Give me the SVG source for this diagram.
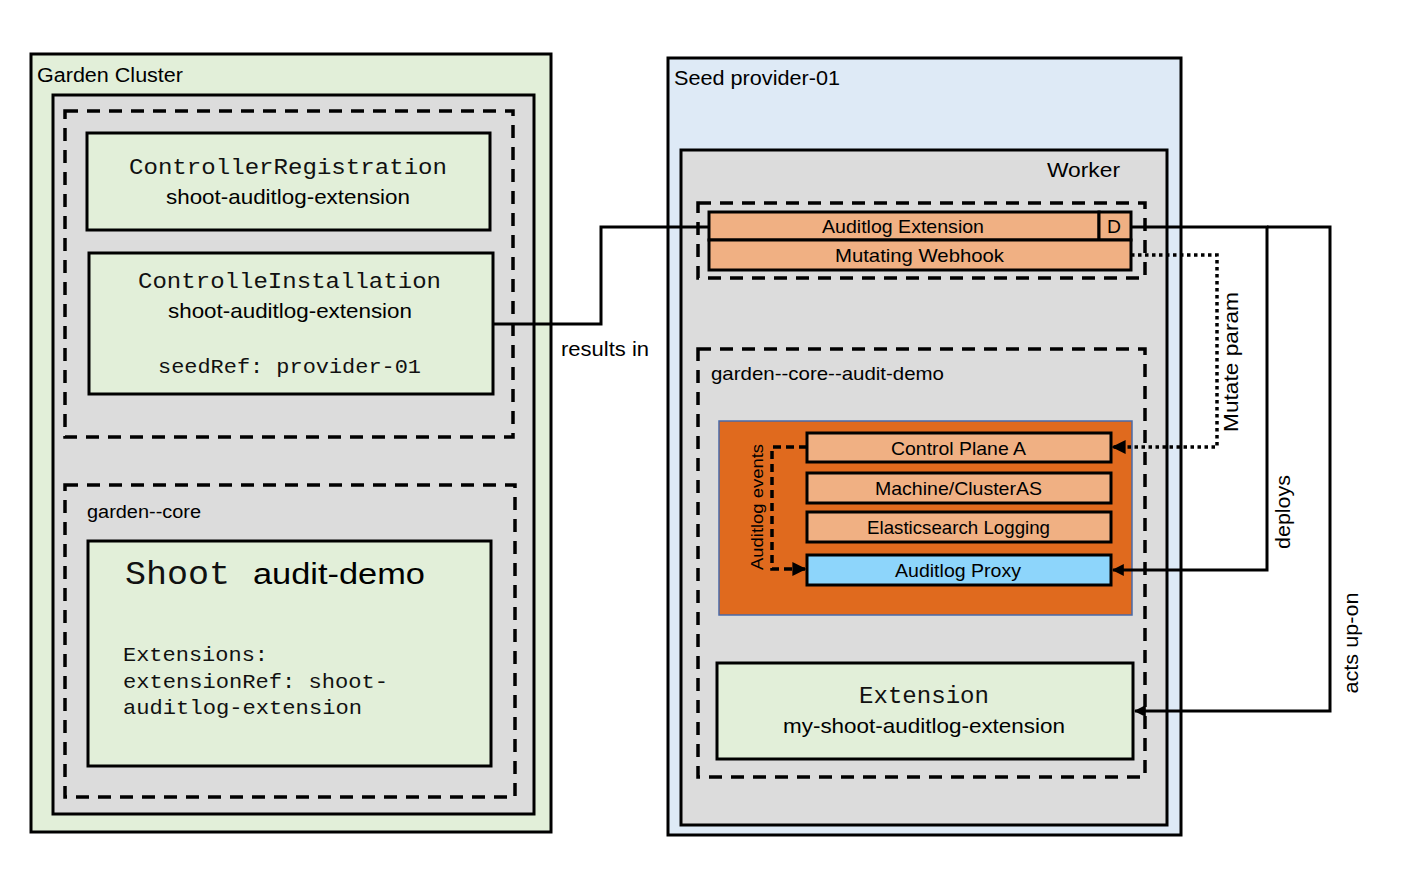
<svg xmlns="http://www.w3.org/2000/svg" width="1401" height="870" viewBox="0 0 1401 870">
<defs>
<style>
.box{stroke:#000;stroke-width:3}
.green{fill:#e2efd9}
.gray{fill:#dcdcdc}
.seed{fill:#deeaf6}
.lor{fill:#f0b083}
.dash{fill:none;stroke:#000;stroke-width:3.5;stroke-dasharray:13 9}
.s{font-family:"Liberation Sans",Arial,sans-serif;fill:#000}
.m{font-family:"Liberation Mono","Courier New",monospace;fill:#111}
.ln{fill:none;stroke:#000;stroke-width:3}
</style>
<marker id="ah" viewBox="0 0 10 10" refX="9" refY="5" markerWidth="4" markerHeight="4" orient="auto" markerUnits="strokeWidth">
<path d="M0,0 L10,5 L0,10 z" fill="#000"/>
</marker>
</defs>
<rect width="1401" height="870" fill="#fff"/>

<g id="garden-cluster">
<rect class="box green" x="31" y="54" width="520" height="778"/>
<text class="s" x="37" y="82" font-size="20" textLength="146" lengthAdjust="spacingAndGlyphs">Garden Cluster</text>
<rect class="box gray" x="53" y="95" width="481" height="719"/>
</g>

<g id="garden-ns">
<rect class="dash" x="65" y="111" width="448" height="326"/>
</g>

<g id="controller-registration">
<rect class="box green" x="87" y="133" width="403" height="97"/>
<text class="m" x="129" y="174" font-size="22" textLength="318" lengthAdjust="spacingAndGlyphs">ControllerRegistration</text>
<text class="s" x="166" y="204" font-size="21" textLength="244" lengthAdjust="spacingAndGlyphs">shoot-auditlog-extension</text>
</g>

<g id="controller-installation">
<rect class="box green" x="89" y="253" width="404" height="141"/>
<text class="m" x="138" y="288" font-size="22" textLength="303" lengthAdjust="spacingAndGlyphs">ControlleInstallation</text>
<text class="s" x="168" y="318" font-size="21" textLength="244" lengthAdjust="spacingAndGlyphs">shoot-auditlog-extension</text>
<text class="m" x="158" y="373" font-size="21" textLength="263" lengthAdjust="spacingAndGlyphs">seedRef: provider-01</text>
</g>

<g id="garden-core">
<rect class="dash" x="65" y="485" width="450" height="312"/>
<text class="s" x="87" y="518" font-size="18" textLength="114" lengthAdjust="spacingAndGlyphs">garden--core</text>
</g>

<g id="shoot">
<rect class="box green" x="88" y="541" width="403" height="225"/>
<text class="m" x="125" y="584" font-size="34" textLength="105" lengthAdjust="spacingAndGlyphs">Shoot</text>
<text class="s" x="253" y="584" font-size="30" textLength="172" lengthAdjust="spacingAndGlyphs">audit-demo</text>
<text class="m" x="123" y="661" font-size="21" textLength="145" lengthAdjust="spacingAndGlyphs">Extensions:</text>
<text class="m" x="123" y="688" font-size="21" textLength="265" lengthAdjust="spacingAndGlyphs">extensionRef: shoot-</text>
<text class="m" x="123" y="714" font-size="21" textLength="239" lengthAdjust="spacingAndGlyphs">auditlog-extension</text>
</g>

<g id="seed">
<rect class="box seed" x="668" y="58" width="513" height="777"/>
<text class="s" x="674" y="85" font-size="20" textLength="166" lengthAdjust="spacingAndGlyphs">Seed provider-01</text>
</g>

<g id="worker">
<rect class="box gray" x="681" y="150" width="486" height="675"/>
<text class="s" x="1047" y="177" font-size="21" textLength="73" lengthAdjust="spacingAndGlyphs">Worker</text>
</g>

<g id="extension-ns">
<rect class="dash" x="698" y="203" width="447" height="75"/>
</g>

<g id="auditlog-extension">
<rect class="box lor" x="709" y="212" width="390" height="28"/>
<text class="s" x="822" y="233" font-size="19" textLength="162" lengthAdjust="spacingAndGlyphs">Auditlog Extension</text>
</g>

<g id="d-box">
<rect class="box lor" x="1099" y="212" width="32" height="28"/>
<text class="s" x="1107" y="233" font-size="19" textLength="14" lengthAdjust="spacingAndGlyphs">D</text>
</g>

<g id="mutating-webhook">
<rect class="box lor" x="709" y="240" width="422" height="30"/>
<text class="s" x="835" y="262" font-size="19" textLength="169" lengthAdjust="spacingAndGlyphs">Mutating Webhook</text>
</g>

<g id="shoot-ns">
<rect class="dash" x="698" y="349" width="447" height="428"/>
<text class="s" x="711" y="380" font-size="19" textLength="233" lengthAdjust="spacingAndGlyphs">garden--core--audit-demo</text>
</g>

<g id="control-plane">
<rect x="719" y="421" width="413" height="194" fill="#e06a1e" stroke="#4a6aa8" stroke-width="1.5"/>
</g>

<g id="control-plane-a">
<rect class="box lor" x="807" y="433" width="304" height="29"/>
<text class="s" x="891" y="455" font-size="19" textLength="135" lengthAdjust="spacingAndGlyphs">Control Plane A</text>
</g>

<g id="machine">
<rect class="box lor" x="807" y="473" width="304" height="30"/>
<text class="s" x="875" y="495" font-size="19" textLength="167" lengthAdjust="spacingAndGlyphs">Machine/ClusterAS</text>
</g>

<g id="elasticsearch">
<rect class="box lor" x="807" y="512" width="304" height="30"/>
<text class="s" x="867" y="534" font-size="19" textLength="183" lengthAdjust="spacingAndGlyphs">Elasticsearch Logging</text>
</g>

<g id="auditlog-proxy">
<rect class="box" x="807" y="555" width="304" height="30" fill="#8dd5fb"/>
<text class="s" x="895" y="577" font-size="19" textLength="126" lengthAdjust="spacingAndGlyphs">Auditlog Proxy</text>
</g>

<g id="extension">
<rect class="box green" x="717" y="663" width="416" height="96"/>
<text class="m" x="859" y="703" font-size="23" textLength="130" lengthAdjust="spacingAndGlyphs">Extension</text>
<text class="s" x="783" y="733" font-size="21" textLength="282" lengthAdjust="spacingAndGlyphs">my-shoot-auditlog-extension</text>
</g>

<g id="connectors">
<polyline class="ln" points="493,324 601,324 601,227 709,227"/>
<text class="s" x="561" y="356" font-size="20" textLength="88" lengthAdjust="spacingAndGlyphs">results in</text>

<polyline class="ln" points="1131,227 1267,227 1267,570 1113,570" marker-end="url(#ah)"/>
<text class="s" transform="translate(1290,512) rotate(-90)" text-anchor="middle" font-size="20" textLength="74" lengthAdjust="spacingAndGlyphs">deploys</text>

<polyline class="ln" points="1267,227 1330,227 1330,711 1135,711" marker-end="url(#ah)"/>
<text class="s" transform="translate(1358,643) rotate(-90)" text-anchor="middle" font-size="20" textLength="101" lengthAdjust="spacingAndGlyphs">acts up-on</text>

<polyline points="1131,255 1217,255 1217,447 1113,447" fill="none" stroke="#000" stroke-width="3.5" stroke-dasharray="3.5 3.5" marker-end="url(#ah)"/>
<text class="s" transform="translate(1238,362) rotate(-90)" text-anchor="middle" font-size="21" textLength="140" lengthAdjust="spacingAndGlyphs">Mutate param</text>

<polyline points="807,447 772,447 772,569 805,569" fill="none" stroke="#000" stroke-width="3.5" stroke-dasharray="8 5" marker-end="url(#ah)"/>
<text class="s" transform="translate(763,507) rotate(-90)" text-anchor="middle" font-size="16" textLength="126" lengthAdjust="spacingAndGlyphs">Auditlog events</text>
</g>
</svg>
